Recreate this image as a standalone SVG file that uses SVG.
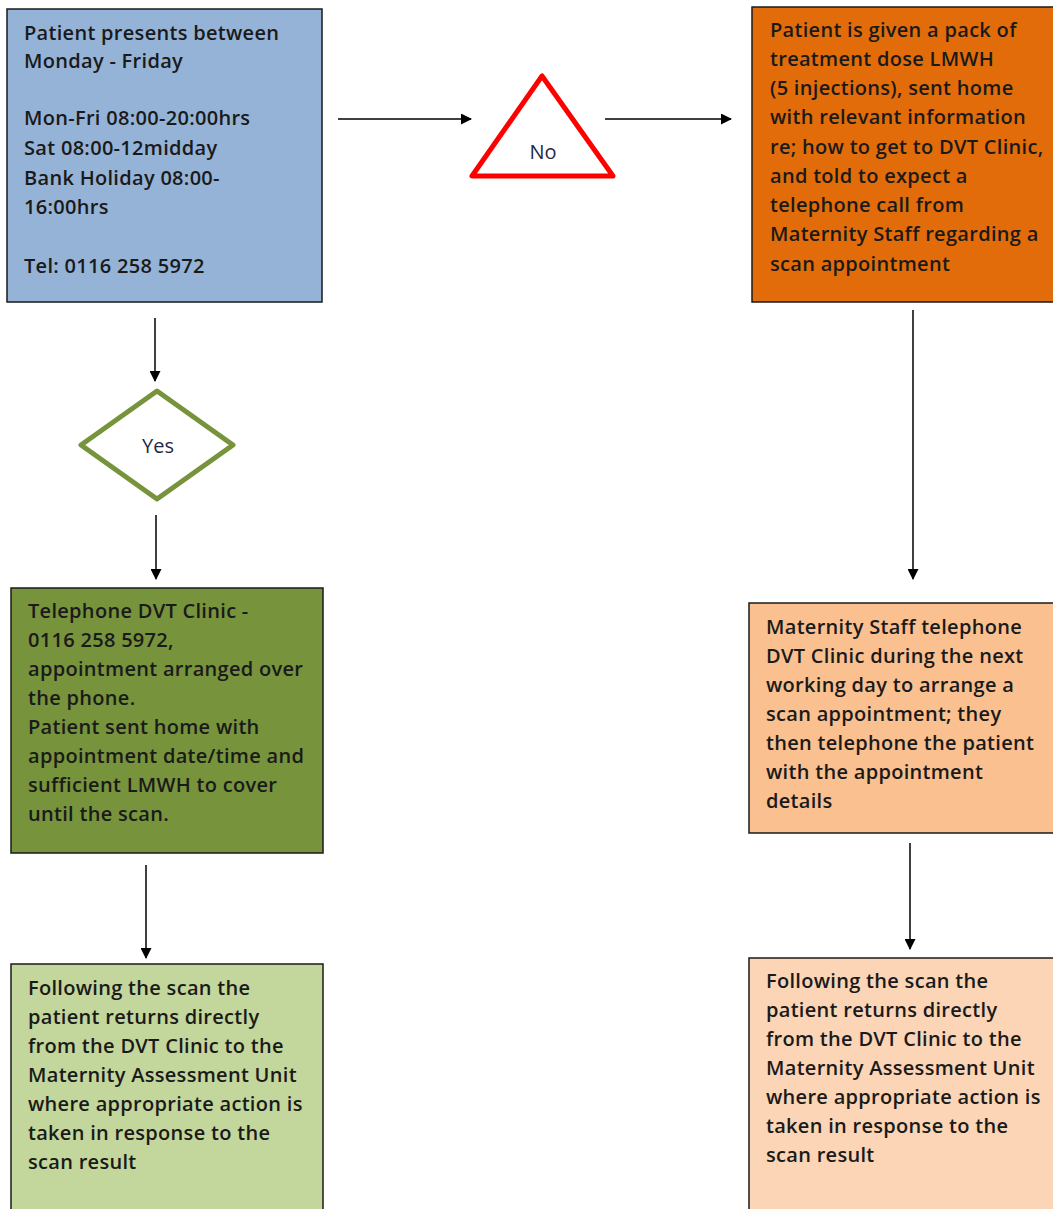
<svg xmlns="http://www.w3.org/2000/svg" width="1053" height="1209" viewBox="0 0 1053 1209">
<defs>
<marker id="ah" markerWidth="11" markerHeight="11" refX="10" refY="5.5" orient="auto" markerUnits="userSpaceOnUse">
<path d="M0,0 L11,5.5 L0,11 Z" fill="#000"/>
</marker>
<style>
.box{stroke:#1a1a1a;stroke-width:1.5}
.t{font-family:"Open Sans","Liberation Sans",Arial,sans-serif;font-weight:600;font-size:20px;letter-spacing:0.3px;fill:#1a1a1a}
.lbl{font-family:"Open Sans","Liberation Sans",Arial,sans-serif;font-weight:500;font-size:20px;fill:#1F2A44}
.c{stroke:#000;stroke-width:1.5;fill:none;marker-end:url(#ah)}
</style>
</defs>
<rect width="1053" height="1209" fill="#fff"/>
<g id="connectors">
<line class="c" x1="338" y1="119" x2="471" y2="119"/>
<line class="c" x1="605" y1="119" x2="731" y2="119"/>
<line class="c" x1="155" y1="318" x2="155" y2="381"/>
<line class="c" x1="156" y1="515" x2="156" y2="579"/>
<line class="c" x1="146" y1="865" x2="146" y2="958"/>
<line class="c" x1="913" y1="310" x2="913" y2="579"/>
<line class="c" x1="910" y1="843" x2="910" y2="949"/>
</g>
<g id="n_start">
<rect class="box" x="7" y="9" width="315" height="293" fill="#95B3D7"/>
<text class="t" x="24"><tspan x="24" y="40">Patient presents between</tspan><tspan x="24" y="68">Monday - Friday</tspan><tspan x="24" y="125">Mon-Fri 08:00-20:00hrs</tspan><tspan x="24" y="155">Sat 08:00-12midday</tspan><tspan x="24" y="185">Bank Holiday 08:00-</tspan><tspan x="24" y="214">16:00hrs</tspan><tspan x="24" y="273">Tel: 0116 258 5972</tspan></text>
</g>
<g id="n_no">
<polygon points="542,76 472,176 613,176" fill="#fff" stroke="#FF0000" stroke-width="5" stroke-linejoin="round"/>
<text class="lbl" x="543" y="159" text-anchor="middle">No</text>
</g>
<g id="n_pack">
<rect class="box" x="752" y="7" width="303" height="295" fill="#E36C0A"/>
<text class="t"><tspan x="770" y="37">Patient is given a pack of</tspan><tspan x="770" y="66">treatment dose LMWH</tspan><tspan x="770" y="95">(5 injections), sent home</tspan><tspan x="770" y="124">with relevant information</tspan><tspan x="770" y="154">re; how to get to DVT Clinic,</tspan><tspan x="770" y="183">and told to expect a</tspan><tspan x="770" y="212">telephone call from</tspan><tspan x="770" y="241">Maternity Staff regarding a</tspan><tspan x="770" y="271">scan appointment</tspan></text>
</g>
<g id="n_yes">
<polygon points="157,391 233,445 157,499 81,445" fill="#fff" stroke="#77933C" stroke-width="5" stroke-linejoin="round"/>
<text class="lbl" x="158" y="453" text-anchor="middle">Yes</text>
</g>
<g id="n_tel">
<rect class="box" x="11" y="588" width="312" height="265" fill="#77933C"/>
<text class="t"><tspan x="28" y="618">Telephone DVT Clinic -</tspan><tspan x="28" y="647">0116 258 5972,</tspan><tspan x="28" y="676">appointment arranged over</tspan><tspan x="28" y="705">the phone.</tspan><tspan x="28" y="734">Patient sent home with</tspan><tspan x="28" y="763">appointment date/time and</tspan><tspan x="28" y="792">sufficient LMWH to cover</tspan><tspan x="28" y="821">until the scan.</tspan></text>
</g>
<g id="n_follow_l">
<rect class="box" x="11" y="964" width="312" height="250" fill="#C3D69B"/>
<text class="t"><tspan x="28" y="995">Following the scan the</tspan><tspan x="28" y="1024">patient returns directly</tspan><tspan x="28" y="1053">from the DVT Clinic to the</tspan><tspan x="28" y="1082">Maternity Assessment Unit</tspan><tspan x="28" y="1111">where appropriate action is</tspan><tspan x="28" y="1140">taken in response to the</tspan><tspan x="28" y="1169">scan result</tspan></text>
</g>
<g id="n_staff">
<rect class="box" x="749" y="603" width="306" height="230" fill="#FAC090"/>
<text class="t"><tspan x="766" y="634">Maternity Staff telephone</tspan><tspan x="766" y="663">DVT Clinic during the next</tspan><tspan x="766" y="692">working day to arrange a</tspan><tspan x="766" y="721">scan appointment; they</tspan><tspan x="766" y="750">then telephone the patient</tspan><tspan x="766" y="779">with the appointment</tspan><tspan x="766" y="808">details</tspan></text>
</g>
<g id="n_follow_r">
<rect class="box" x="749" y="958" width="306" height="256" fill="#FBD5B5"/>
<text class="t"><tspan x="766" y="988">Following the scan the</tspan><tspan x="766" y="1017">patient returns directly</tspan><tspan x="766" y="1046">from the DVT Clinic to the</tspan><tspan x="766" y="1075">Maternity Assessment Unit</tspan><tspan x="766" y="1104">where appropriate action is</tspan><tspan x="766" y="1133">taken in response to the</tspan><tspan x="766" y="1162">scan result</tspan></text>
</g>
</svg>
